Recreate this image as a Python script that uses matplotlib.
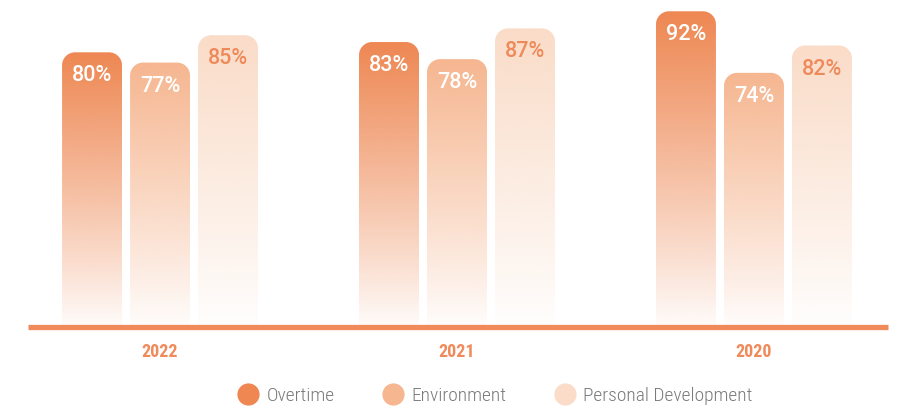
import numpy as np
import matplotlib
matplotlib.use("Agg")
import matplotlib.pyplot as plt
from matplotlib.path import Path
from matplotlib.patches import PathPatch
from matplotlib.lines import Line2D

# data
years = ["2022", "2021", "2020"]
series = ["Overtime", "Environment", "Personal Development"]
overtime = [80, 83, 92]
environment = [77, 78, 74]
personal_dev = [85, 87, 82]

colors = ["#EE8752", "#F6B690", "#FADCC8"]
label_colors = ["white", "white", "#EE8A5A"]
orange = "#F08A5A"
narrow = ["Roboto Condensed", "Open Sans Condensed", "Liberation Sans Narrow",
          "DejaVu Sans Condensed", "DejaVu Sans"]

fig = plt.figure(figsize=(9.06, 4.09), dpi=100)
ax = fig.add_axes([0, 0, 1, 1])
ax.set_xlim(-0.539, 2.512)
ax.set_ylim(-24.3, 95.3)
ax.axis("off")

bar_w = 0.202
step = 0.229
rx, ry = 0.044, 3.8  # corner radius in data units


def top_rounded(x0, w, h):
    x1 = x0 + w
    k = 0.5523
    verts = [(x0, 0), (x0, h - ry),
             (x0, h - ry + k * ry), (x0 + rx - k * rx, h), (x0 + rx, h),
             (x1 - rx, h),
             (x1 - rx + k * rx, h), (x1, h - ry + k * ry), (x1, h - ry),
             (x1, 0), (x0, 0)]
    codes = [Path.MOVETO, Path.LINETO,
             Path.CURVE4, Path.CURVE4, Path.CURVE4,
             Path.LINETO,
             Path.CURVE4, Path.CURVE4, Path.CURVE4,
             Path.LINETO, Path.CLOSEPOLY]
    return Path(verts, codes)


all_vals = [overtime, environment, personal_dev]
for s, vals in enumerate(all_vals):
    rgb = matplotlib.colors.to_rgb(colors[s])
    for i, v in enumerate(vals):
        x0 = i + (s - 1) * step - bar_w / 2
        patch = PathPatch(top_rounded(x0, bar_w, v), facecolor="none", edgecolor="none")
        ax.add_patch(patch)
        n = 200
        grad = np.zeros((n, 1, 4))
        grad[:, 0, :3] = rgb
        grad[:, 0, 3] = np.linspace(1.0, 0.02, n) ** 0.9
        im = ax.imshow(grad, extent=(x0, x0 + bar_w, 0, v), origin="upper",
                       aspect="auto", interpolation="bilinear", zorder=2)
        im.set_clip_path(patch)
        ax.text(x0 + bar_w / 2, v - 6.9, f"{v}%", ha="center", va="center",
                color=label_colors[s], fontsize=15.5, fontweight="medium",
                family=["Roboto", "DejaVu Sans"], zorder=3)

# baseline
ax.plot([-0.444, 2.451], [-0.4, -0.4], color=orange, lw=3.8,
        solid_capstyle="butt", zorder=4)

for i, y in enumerate(years):
    ax.text(i, -7.7, y, ha="center", va="center", color=orange, fontsize=13,
            fontweight="bold", family=narrow)

handles = [Line2D([], [], ls="none", marker="o", markersize=16,
                  markerfacecolor=c, markeredgecolor="none") for c in colors]
leg = ax.legend(handles, series, loc="center", bbox_to_anchor=(0.547, 0.032),
                ncol=3, frameon=False, handlelength=1.0, handletextpad=0.45,
                columnspacing=2.5,
                prop={"family": narrow, "size": 14, "weight": "light"})
for t in leg.get_texts():
    t.set_color("#7a7a7a")

fig.savefig("out.png", dpi=100)
